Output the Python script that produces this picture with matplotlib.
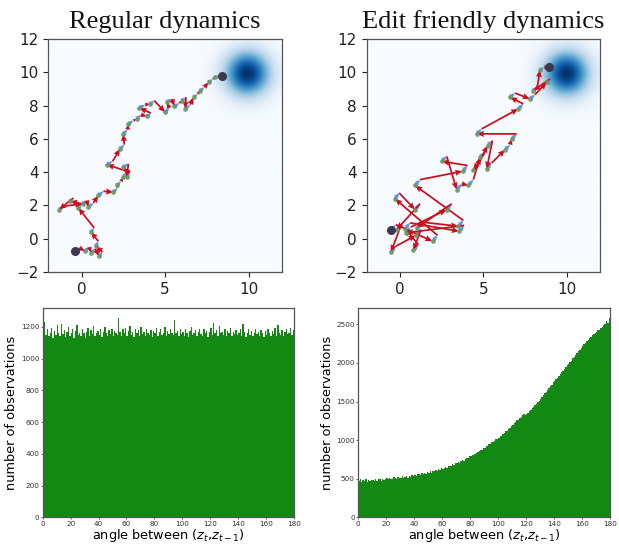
import numpy as np
import matplotlib
matplotlib.use("Agg")
import matplotlib.pyplot as plt

# ---------------- data ----------------
titles = ["Regular dynamics", "Edit friendly dynamics"]
target_center = (10.0, 10.0)
target_sigma = 0.95

left_node_x = [-0.40, 0.20, 0.55, 1.05, 0.85, 0.55, -0.20, -0.70, -1.35, 0.05, 0.40, 1.00, 1.90, 2.10, 2.50,
               2.50, 2.70, 1.50, 2.30, 2.50, 2.80, 3.30, 3.90, 3.45, 4.10, 5.00, 5.10, 5.55, 6.00, 6.20,
               6.70, 7.10, 7.60, 8.00, 8.40]
left_node_y = [-0.75, -0.75, -0.85, -1.05, -0.45, 0.40, 1.85, 2.25, 1.75, 2.10, 1.90, 2.60, 2.80, 3.20, 3.70,
               4.30, 3.70, 4.45, 5.40, 6.30, 6.90, 7.20, 7.35, 7.85, 8.10, 7.60, 8.20, 7.95, 8.30, 7.80,
               8.50, 8.90, 9.40, 9.70, 9.80]
left_drift_x = [-0.15, 0.45, 0.80, 1.25, 1.00, 0.75, 0.00, -0.50, -1.10, 0.30, 0.70, 1.30, 2.15, 2.35, 2.75,
                2.80, 2.90, 1.85, 2.55, 2.75, 3.10, 3.55, 4.15, 3.80, 4.35, 5.25, 5.40, 5.85, 6.25, 6.50,
                6.95, 7.35, 7.85, 8.25]
left_drift_y = [-0.55, -0.50, -0.60, -0.80, -0.15, 0.65, 2.10, 2.45, 1.95, 2.30, 2.15, 2.85, 3.05, 3.45, 4.00,
                4.50, 4.00, 4.65, 5.65, 6.55, 7.10, 7.45, 7.55, 8.05, 8.30, 7.85, 8.40, 8.15, 8.50, 8.05,
                8.70, 9.10, 9.60, 9.80]

right_node_x = [-0.55, 1.95, -0.30, 0.90, -0.20, -0.55, 0.95, 0.80, 0.30, 3.55, 0.35, 2.80, 1.00, 3.50, 0.90,
                3.75, 2.50, 3.40, 4.10, 4.80, 4.40, 5.25, 5.20, 6.30, 6.70, 4.60, 7.10, 6.60, 7.80, 8.80,
                8.00, 8.40, 8.95]
right_node_y = [0.50, -0.15, 2.40, 1.75, 0.55, -0.80, 0.20, -0.70, 0.60, 0.45, 0.35, 1.75, 0.65, 0.75, 3.20,
                4.05, 4.65, 2.95, 3.20, 4.90, 4.10, 5.60, 4.20, 5.35, 6.00, 6.30, 7.80, 8.50, 8.40, 9.40,
                8.90, 10.15, 10.30]
right_drift_x = [-0.25, 2.25, -0.05, 1.20, 0.10, -0.25, 1.25, 1.10, 0.60, 3.85, 0.65, 3.10, 1.30, 3.80, 1.20,
                 4.05, 2.80, 3.70, 4.40, 5.10, 4.70, 5.55, 5.50, 6.60, 7.00, 4.90, 7.40, 6.90, 8.10, 9.00,
                 8.25, 8.65]
right_drift_y = [0.85, 0.20, 2.75, 2.10, 0.90, -0.45, 0.55, -0.35, 0.95, 0.80, 0.70, 2.10, 1.00, 1.10, 3.55,
                 4.40, 4.95, 3.30, 3.55, 5.20, 4.45, 5.90, 4.55, 5.65, 6.30, 6.60, 8.10, 8.75, 8.65, 9.60,
                 9.15, 10.30]

hist_edges_range = (0, 180)
regular_counts = [
    1170, 1230, 1150, 1185, 1140, 1160, 1195, 1130, 1175, 1150, 1210, 1165, 1140, 1220, 1155, 1180, 1135, 1170, 1200, 1145,
    1160, 1190, 1130, 1175, 1215, 1150, 1165, 1140, 1185, 1160, 1130, 1170, 1195, 1145, 1180, 1155, 1205, 1140, 1165, 1175,
    1150, 1185, 1135, 1170, 1200, 1160, 1145, 1180, 1155, 1190, 1140, 1175, 1165, 1150, 1255, 1170, 1140, 1185, 1160, 1195,
    1145, 1175, 1205, 1150, 1170, 1135, 1185, 1160, 1180, 1145, 1200, 1155, 1170, 1140, 1190, 1165, 1150, 1180, 1135, 1175,
    1160, 1195, 1145, 1170, 1185, 1150, 1165, 1200, 1140, 1175, 1155, 1185, 1165, 1150, 1245, 1160, 1175, 1140, 1190, 1155,
    1170, 1145, 1185, 1160, 1135, 1175, 1200, 1150, 1165, 1180, 1140, 1170, 1190, 1155, 1145, 1185, 1160, 1175, 1135, 1170,
    1195, 1150, 1225, 1165, 1180, 1140, 1205, 1160, 1170, 1150, 1185, 1145, 1175, 1160, 1195, 1140, 1170, 1155, 1180, 1150,
    1165, 1190, 1145, 1220, 1170, 1135, 1160, 1185, 1150, 1175, 1140, 1165, 1190, 1155, 1170, 1145, 1180, 1160, 1135, 1175,
    1150, 1185, 1160, 1140, 1175, 1155, 1195, 1145, 1210, 1165, 1150, 1180, 1140, 1170, 1190, 1155, 1165, 1195, 1150, 1180,
]
edit_counts = [
    470, 495, 455, 485, 465, 500, 460, 485, 470, 480,
    480, 470, 495, 475, 490, 490, 470, 500, 480, 495,
    505, 490, 515, 500, 495, 520, 505, 500, 520, 510,
    515, 530, 510, 520, 535, 515, 540, 525, 545, 530,
    545, 535, 555, 560, 545, 570, 555, 575, 560, 585,
    575, 595, 580, 605, 595, 615, 600, 625, 615, 635,
    625, 645, 650, 640, 665, 670, 665, 690, 680, 705,
    705, 720, 710, 735, 745, 735, 760, 770, 775, 790,
    790, 805, 805, 825, 835, 840, 855, 870, 875, 895,
    900, 920, 925, 945, 950, 970, 975, 995, 1010, 1020,
    1030, 1050, 1060, 1080, 1095, 1115, 1125, 1150, 1160, 1185,
    1195, 1220, 1230, 1255, 1265, 1290, 1300, 1325, 1340, 1330,
    1340, 1355, 1375, 1390, 1415, 1430, 1455, 1470, 1495, 1510,
    1530, 1560, 1580, 1605, 1625, 1655, 1670, 1700, 1720, 1750,
    1765, 1795, 1810, 1835, 1855, 1880, 1900, 1925, 1945, 1970,
    1985, 2015, 2030, 2060, 2080, 2105, 2125, 2155, 2170, 2200,
    2220, 2245, 2260, 2290, 2300, 2330, 2335, 2365, 2370, 2395,
    2405, 2425, 2430, 2460, 2470, 2490, 2500, 2540, 2520, 2580,
]

# ---------------- figure ----------------
W, H = 619, 544
fig = plt.figure(figsize=(W / 100, H / 100), dpi=100)


def frac(x0, y0, x1, y1):
    return [x0 / W, 1 - y1 / H, (x1 - x0) / W, (y1 - y0) / H]


top_axes = [fig.add_axes(frac(48.3, 39, 282, 272)), fig.add_axes(frac(366.7, 39, 600, 272))]
bot_axes = [fig.add_axes(frac(42.7, 308.3, 294, 517.3)), fig.add_axes(frac(358.3, 308.3, 610, 517.3))]

# background density
g = np.linspace(-2, 12, 80)
GX, GY = np.meshgrid(g, g)
dens = np.exp(-((GX - target_center[0]) ** 2 + (GY - target_center[1]) ** 2) / (2 * target_sigma ** 2))

paths = [
    (left_node_x, left_node_y, left_drift_x, left_drift_y),
    (right_node_x, right_node_y, right_drift_x, right_drift_y),
]

for ax, title, (nx, ny, dx, dy) in zip(top_axes, titles, paths):
    nx, ny, dx, dy = map(np.asarray, (nx, ny, dx, dy))
    ax.imshow(dens, extent=(-2, 12, -2, 12), origin="lower", cmap="Blues",
              interpolation="bilinear", aspect="auto", zorder=0)
    m = len(dx)
    # drift (blue) arrows
    ax.quiver(nx[:m], ny[:m], dx - nx[:m], dy - ny[:m], angles="xy", scale_units="xy", scale=1,
              color="#6495ED", width=0.011, headwidth=2.0, headlength=2.2, headaxislength=2.0, zorder=2)
    # noise (red) arrows
    ax.quiver(dx, dy, nx[1:m + 1] - dx, ny[1:m + 1] - dy, angles="xy", scale_units="xy", scale=1,
              color="#d10a1e", width=0.0075, headwidth=3.5, headlength=4.2, headaxislength=3.8, zorder=3)
    ax.plot(nx, ny, "o", ms=2.4, color="#6a9a5e", alpha=0.85, lw=0, zorder=4)
    ax.plot([nx[0], nx[-1]], [ny[0], ny[-1]], "o", ms=5.5, color="#3d3852", zorder=5)
    ax.set_xlim(-2, 12)
    ax.set_ylim(-2, 12)
    ax.set_xticks([0, 5, 10])
    ax.set_yticks([-2, 0, 2, 4, 6, 8, 10, 12])
    ax.set_yticklabels(["\u22122", "0", "2", "4", "6", "8", "10", "12"])
    ax.tick_params(labelsize=11, length=3.5, width=0.8, colors="#222222")
    for s in ax.spines.values():
        s.set_color("#555555")
        s.set_linewidth(0.9)
    ax.set_title(title, family="Liberation Serif", fontsize=19, pad=8, color="#111111")

for ax, counts, yt in zip(bot_axes, [regular_counts, edit_counts],
                          [np.arange(0, 1201, 200), np.arange(0, 2501, 500)]):
    counts = np.asarray(counts)
    edges = np.linspace(hist_edges_range[0], hist_edges_range[1], len(counts) + 1)
    ax.bar(edges[:-1], counts, width=np.diff(edges), align="edge", color="green",
           alpha=0.93, linewidth=0)
    ax.set_xlim(0, 180)
    ax.set_ylim(0, counts.max() * 1.05)
    ax.set_xticks(np.arange(0, 181, 20))
    ax.set_yticks(yt)
    ax.tick_params(labelsize=5.2, length=1.5, width=0.5, pad=1, colors="#333333")
    for s in ax.spines.values():
        s.set_color("#555555")
        s.set_linewidth(0.9)
    ax.set_xlabel(r"angle between $(z_t$,$z_{t-1})$", fontsize=9.3, labelpad=0.5)
    ax.set_ylabel("number of observations", fontsize=9.3, labelpad=2)

fig.savefig("out.png", dpi=100)
